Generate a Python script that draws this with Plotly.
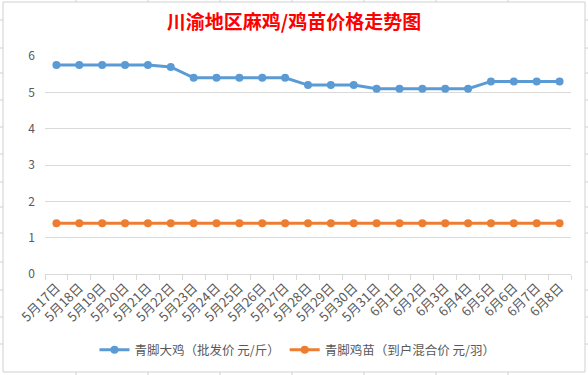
import plotly.graph_objects as go

dates = ["5月17日", "5月18日", "5月19日", "5月20日", "5月21日", "5月22日", "5月23日",
         "5月24日", "5月25日", "5月26日", "5月27日", "5月28日", "5月29日", "5月30日",
         "5月31日", "6月1日", "6月2日", "6月3日", "6月4日", "6月5日", "6月6日",
         "6月7日", "6月8日"]
big_chicken = [5.75, 5.75, 5.75, 5.75, 5.75, 5.7, 5.4, 5.4, 5.4, 5.4, 5.4,
               5.2, 5.2, 5.2, 5.1, 5.1, 5.1, 5.1, 5.1, 5.3, 5.3, 5.3, 5.3]
chick = [1.4] * 23
name_big = "青脚大鸡（批发价 元/斤）"
name_chick = "青脚鸡苗（到户混合价 元/羽）"
title_text = "川渝地区麻鸡/鸡苗价格走势图"

W, H = 588, 375
L, R, T, B = 45, 17, 56, 101
pw, ph = W - L - R, H - T - B

def px(x):
    return (x - L) / pw

def py(y):
    return (H - B - y) / ph

font = "Noto Sans CJK SC, Noto Sans, sans-serif"
fig = go.Figure()
fig.add_trace(go.Scatter(x=dates, y=big_chicken, name=name_big, mode="lines+markers",
                         line=dict(color="#5B9BD5", width=3),
                         marker=dict(color="#5B9BD5", size=8)))
fig.add_trace(go.Scatter(x=dates, y=chick, name=name_chick, mode="lines+markers",
                         line=dict(color="#ED7D31", width=3),
                         marker=dict(color="#ED7D31", size=8)))

shapes = []
# chart border
shapes.append(dict(type="rect", xref="paper", yref="paper", x0=px(3), x1=px(585),
                   y0=py(372), y1=py(2), line=dict(color="#D0D0D0", width=1), layer="below"))
# spreadsheet cell lines outside chart
for cx in [76, 148, 220, 292, 364, 436, 508]:
    shapes.append(dict(type="line", xref="paper", yref="paper", x0=px(cx), x1=px(cx),
                       y0=py(0), y1=py(2), line=dict(color="#D0D0D0", width=1)))
    shapes.append(dict(type="line", xref="paper", yref="paper", x0=px(cx), x1=px(cx),
                       y0=py(372), y1=py(375), line=dict(color="#D0D0D0", width=1)))
for ry in [20, 48, 73, 100, 127, 154, 182, 207, 233, 262, 290, 317, 344]:
    shapes.append(dict(type="line", xref="paper", yref="paper", x0=px(585), x1=px(588),
                       y0=py(ry), y1=py(ry), line=dict(color="#D0D0D0", width=1)))
    shapes.append(dict(type="line", xref="paper", yref="paper", x0=px(0), x1=px(3),
                       y0=py(ry), y1=py(ry), line=dict(color="#D0D0D0", width=1)))

fig.update_layout(
    width=W, height=H,
    margin=dict(l=L, r=R, t=T, b=B, pad=0, autoexpand=False),
    paper_bgcolor="white", plot_bgcolor="white",
    title=dict(text=title_text, x=0.5, xanchor="center", xref="container",
               y=1 - 22 / H, yanchor="middle", yref="container",
               font=dict(family=font, size=19, color="#FF0000", weight="bold")),
    font=dict(family=font, color="#595959"),
    showlegend=True,
    legend=dict(orientation="h", x=0.48, xanchor="center", y=py(350), yanchor="middle",
                font=dict(size=12.5, color="#595959"), itemwidth=30,
                bgcolor="rgba(0,0,0,0)"),
    xaxis=dict(type="category", range=[-0.5, len(dates) - 0.5], autorange=False,
               tickangle=-45, tickfont=dict(size=13, color="#595959"),
               showline=True, linecolor="#D9D9D9", linewidth=1, automargin=False,
               ticks="outside", tickson="boundaries", ticklen=5, tickcolor="#D9D9D9",
               showgrid=False),
    yaxis=dict(range=[0, 6], dtick=1, showgrid=True, gridcolor="#D9D9D9", gridwidth=1,
               zeroline=False, showline=False, ticks="", ticklabelstandoff=9,
               automargin=False, tickfont=dict(size=12, color="#595959")),
    shapes=shapes,
)
fig.write_html("out.html", config={"displayModeBar": False},
               post_script="document.body.style.margin='0';document.body.style.padding='0';")
